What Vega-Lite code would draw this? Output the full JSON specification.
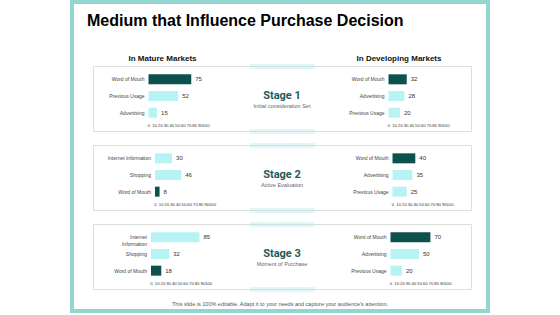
{
 "$schema": "https://vega.github.io/schema/vega-lite/v6.json",
 "padding": {"left": 70, "top": 0, "right": 0, "bottom": 0},
 "background": "white",
 "config": {"font": "Liberation Sans", "view": {"stroke": null}, "axis": {"labelOverlap": false, "tickCount": 12}},
 "datasets": {
  "bars": [
   {"stage":"Stage 1","market":"Mature","rank":1,"item":"Word of Mouth","label":"Word of Mouth","value":75},
   {"stage":"Stage 1","market":"Mature","rank":2,"item":"Previous Usage","label":"Previous Usage","value":52},
   {"stage":"Stage 1","market":"Mature","rank":3,"item":"Advertising","label":"Advertising","value":15},
   {"stage":"Stage 1","market":"Developing","rank":1,"item":"Word of Mouth","label":"Word of Mouth","value":32},
   {"stage":"Stage 1","market":"Developing","rank":2,"item":"Advertising","label":"Advertising","value":28},
   {"stage":"Stage 1","market":"Developing","rank":3,"item":"Previous Usage","label":"Previous Usage","value":20},
   {"stage":"Stage 2","market":"Mature","rank":1,"item":"Internet Information","label":"Internet Information","value":30},
   {"stage":"Stage 2","market":"Mature","rank":2,"item":"Shopping","label":"Shopping","value":46},
   {"stage":"Stage 2","market":"Mature","rank":3,"item":"Word of Mouth","label":"Word of Mouth","value":8},
   {"stage":"Stage 2","market":"Developing","rank":1,"item":"Word of Mouth","label":"Word of Mouth","value":40},
   {"stage":"Stage 2","market":"Developing","rank":2,"item":"Advertising","label":"Advertising","value":35},
   {"stage":"Stage 2","market":"Developing","rank":3,"item":"Previous Usage","label":"Previous Usage","value":25},
   {"stage":"Stage 3","market":"Mature","rank":1,"item":"Internet Information","label":"Internet\nInformation","value":85},
   {"stage":"Stage 3","market":"Mature","rank":2,"item":"Shopping","label":"Shopping","value":32},
   {"stage":"Stage 3","market":"Mature","rank":3,"item":"Word of Mouth","label":"Word of Mouth","value":18},
   {"stage":"Stage 3","market":"Developing","rank":1,"item":"Word of Mouth","label":"Word of Mouth","value":70},
   {"stage":"Stage 3","market":"Developing","rank":2,"item":"Advertising","label":"Advertising","value":50},
   {"stage":"Stage 3","market":"Developing","rank":3,"item":"Previous Usage","label":"Previous Usage","value":20}
  ]
 },
 "spacing": 0,
 "hconcat": [
  {"width": 4, "height": 313, "view": {"fill": "#93d5cf", "stroke": null}, "data": {"values": []}, "mark": "point"},
  {
   "spacing": 0,
   "vconcat": [
    {"width": 412, "height": 4, "view": {"fill": "#93d5cf", "stroke": null}, "data": {"values": []}, "mark": "point"},
    {
     "width": 412, "height": 59,
     "data": {"values": [{"h": "In Mature Markets"}, {"h": "In Developing Markets"}]},
     "layer": [
      {
       "transform": [{"filter": "datum.h == 'In Mature Markets'"}],
       "mark": {"type": "text", "text": "Medium that Influence Purchase Decision", "align": "left", "baseline": "alphabetic", "dx": -193, "dy": -7.5, "fontSize": 16, "fontWeight": "bold", "color": "#000000"},
       "encoding": {}
      },
      {
       "mark": {"type": "text", "fontSize": 8, "fontWeight": "bold", "dy": 25.5, "color": "#111111"},
       "encoding": {
        "x": {"field": "h", "type": "nominal", "sort": null, "axis": null, "scale": {"type": "point", "domain": ["In Mature Markets", "In Developing Markets"], "range": [88.5, 325], "padding": 0}},
        "text": {"field": "h"}
       }
      }
     ]
    },
    {
     "spacing": 0,
     "hconcat": [
      {"width": 18, "height": 65, "data": {"values": []}, "mark": "point"},
      {
       "width": 378, "height": 65,
       "view": {"stroke": "#dedede", "strokeWidth": 1},
       "resolve": {"scale": {"x": "independent"}, "axis": {"x": "independent"}},
       "layer": [
        {
         "data": {"name": "bars"},
         "transform": [{"filter": "datum.stage == 'Stage 1' && datum.market == 'Mature'"}],
         "encoding": {"y": {"field": "rank", "type": "ordinal", "axis": null, "scale": {"domain": [1, 2, 3], "range": [5, 55], "paddingInner": 0.4, "paddingOuter": 0.2}}},
         "layer": [
          {"mark": {"type": "bar"}, "encoding": {
            "x": {"field": "value", "type": "quantitative", "scale": {"domain": [0, 100], "range": [55.5, 112.5], "nice": false}, "axis": {"orient": "bottom", "values": [0,10,20,30,40,50,60,70,80,90,100], "tickCount": 12, "labelFontSize": 4.3, "labelOverlap": false, "labelFlush": false, "labelBound": false, "ticks": false, "domain": false, "grid": false, "title": null, "offset": -8, "labelPadding": 0, "labelColor": "#333333"}},
            "color": {"condition": {"test": "datum.item == 'Word of Mouth'", "value": "#0d514d"}, "value": "#b7f3f4"}}},
          {"mark": {"type": "text", "align": "left", "dx": 4, "fontSize": 6, "color": "#333333"}, "encoding": {"x": {"field": "value", "type": "quantitative"}, "text": {"field": "value"}}},
          {"mark": {"type": "text", "align": "right", "dx": -4, "fontSize": 5, "color": "#444444", "lineBreak": "\n"}, "encoding": {"x": {"datum": 0, "type": "quantitative"}, "text": {"field": "label"}}}
         ]
        },
        {
         "data": {"name": "bars"},
         "transform": [{"filter": "datum.stage == 'Stage 1' && datum.market == 'Developing'"}],
         "encoding": {"y": {"field": "rank", "type": "ordinal", "axis": null}},
         "layer": [
          {"mark": {"type": "bar"}, "encoding": {
            "x": {"field": "value", "type": "quantitative", "scale": {"domain": [0, 100], "range": [295.5, 352.5], "nice": false}, "axis": {"orient": "bottom", "values": [0,10,20,30,40,50,60,70,80,90,100], "tickCount": 12, "labelFontSize": 4.3, "labelOverlap": false, "labelFlush": false, "labelBound": false, "ticks": false, "domain": false, "grid": false, "title": null, "offset": -8, "labelPadding": 0, "labelColor": "#333333"}},
            "color": {"condition": {"test": "datum.item == 'Word of Mouth'", "value": "#0d514d"}, "value": "#b7f3f4"}}},
          {"mark": {"type": "text", "align": "left", "dx": 4, "fontSize": 6, "color": "#333333"}, "encoding": {"x": {"field": "value", "type": "quantitative"}, "text": {"field": "value"}}},
          {"mark": {"type": "text", "align": "right", "dx": -4, "fontSize": 5, "color": "#444444", "lineBreak": "\n"}, "encoding": {"x": {"datum": 0, "type": "quantitative"}, "text": {"field": "label"}}}
         ]
        },
        {
         "data": {"values": [{"s": "Stage 1", "sub": "Initial consideration Set"}]},
         "layer": [
          {"mark": {"type": "text", "fontSize": 11, "fontWeight": "bold", "color": "#1d5c59", "font": "Roboto"}, "encoding": {"y": {"datum": 2, "type": "ordinal"}, "text": {"field": "s"}}},
          {"mark": {"type": "text", "fontSize": 5.5, "color": "#666666", "dy": 10}, "encoding": {"y": {"datum": 2, "type": "ordinal"}, "text": {"field": "sub"}}},
          {"mark": {"type": "text", "text": "||||||||||||||||||||||||||||||||||||||||||||||||||", "fontSize": 5, "color": "#a9e8ea", "baseline": "middle"}, "encoding": {"y": {"value": 0}}},
          {"mark": {"type": "text", "text": "||||||||||||||||||||||||||||||||||||||||||||||||||", "fontSize": 5, "color": "#a9e8ea", "baseline": "middle"}, "encoding": {"y": {"value": "height"}}}
         ]
        }
       ]
      }
     ]
    },
    {"width": 412, "height": 7, "data": {"values": []}, "mark": "point"},
    {
     "spacing": 0,
     "hconcat": [
      {"width": 18, "height": 65, "data": {"values": []}, "mark": "point"},
      {
       "width": 378, "height": 65,
       "view": {"stroke": "#dedede", "strokeWidth": 1},
       "resolve": {"scale": {"x": "independent"}, "axis": {"x": "independent"}},
       "layer": [
        {
         "data": {"name": "bars"},
         "transform": [{"filter": "datum.stage == 'Stage 2' && datum.market == 'Mature'"}],
         "encoding": {"y": {"field": "rank", "type": "ordinal", "axis": null, "scale": {"domain": [1, 2, 3], "range": [5, 55], "paddingInner": 0.4, "paddingOuter": 0.2}}},
         "layer": [
          {"mark": {"type": "bar"}, "encoding": {
            "x": {"field": "value", "type": "quantitative", "scale": {"domain": [0, 100], "range": [62, 119], "nice": false}, "axis": {"orient": "bottom", "values": [0,10,20,30,40,50,60,70,80,90,100], "tickCount": 12, "labelFontSize": 4.3, "labelOverlap": false, "labelFlush": false, "labelBound": false, "ticks": false, "domain": false, "grid": false, "title": null, "offset": -8, "labelPadding": 0, "labelColor": "#333333"}},
            "color": {"condition": {"test": "datum.item == 'Word of Mouth'", "value": "#0d514d"}, "value": "#b7f3f4"}}},
          {"mark": {"type": "text", "align": "left", "dx": 4, "fontSize": 6, "color": "#333333"}, "encoding": {"x": {"field": "value", "type": "quantitative"}, "text": {"field": "value"}}},
          {"mark": {"type": "text", "align": "right", "dx": -4, "fontSize": 5, "color": "#444444", "lineBreak": "\n"}, "encoding": {"x": {"datum": 0, "type": "quantitative"}, "text": {"field": "label"}}}
         ]
        },
        {
         "data": {"name": "bars"},
         "transform": [{"filter": "datum.stage == 'Stage 2' && datum.market == 'Developing'"}],
         "encoding": {"y": {"field": "rank", "type": "ordinal", "axis": null}},
         "layer": [
          {"mark": {"type": "bar"}, "encoding": {
            "x": {"field": "value", "type": "quantitative", "scale": {"domain": [0, 100], "range": [299.5, 356.5], "nice": false}, "axis": {"orient": "bottom", "values": [0,10,20,30,40,50,60,70,80,90,100], "tickCount": 12, "labelFontSize": 4.3, "labelOverlap": false, "labelFlush": false, "labelBound": false, "ticks": false, "domain": false, "grid": false, "title": null, "offset": -8, "labelPadding": 0, "labelColor": "#333333"}},
            "color": {"condition": {"test": "datum.item == 'Word of Mouth'", "value": "#0d514d"}, "value": "#b7f3f4"}}},
          {"mark": {"type": "text", "align": "left", "dx": 4, "fontSize": 6, "color": "#333333"}, "encoding": {"x": {"field": "value", "type": "quantitative"}, "text": {"field": "value"}}},
          {"mark": {"type": "text", "align": "right", "dx": -4, "fontSize": 5, "color": "#444444", "lineBreak": "\n"}, "encoding": {"x": {"datum": 0, "type": "quantitative"}, "text": {"field": "label"}}}
         ]
        },
        {
         "data": {"values": [{"s": "Stage 2", "sub": "Active Evaluation"}]},
         "layer": [
          {"mark": {"type": "text", "fontSize": 11, "fontWeight": "bold", "color": "#1d5c59", "font": "Roboto"}, "encoding": {"y": {"datum": 2, "type": "ordinal"}, "text": {"field": "s"}}},
          {"mark": {"type": "text", "fontSize": 5.5, "color": "#666666", "dy": 10}, "encoding": {"y": {"datum": 2, "type": "ordinal"}, "text": {"field": "sub"}}},
          {"mark": {"type": "text", "text": "||||||||||||||||||||||||||||||||||||||||||||||||||", "fontSize": 5, "color": "#a9e8ea", "baseline": "middle"}, "encoding": {"y": {"value": 0}}},
          {"mark": {"type": "text", "text": "||||||||||||||||||||||||||||||||||||||||||||||||||", "fontSize": 5, "color": "#a9e8ea", "baseline": "middle"}, "encoding": {"y": {"value": "height"}}}
         ]
        }
       ]
      }
     ]
    },
    {"width": 412, "height": 7, "data": {"values": []}, "mark": "point"},
    {
     "spacing": 0,
     "hconcat": [
      {"width": 18, "height": 65, "data": {"values": []}, "mark": "point"},
      {
       "width": 378, "height": 65,
       "view": {"stroke": "#dedede", "strokeWidth": 1},
       "resolve": {"scale": {"x": "independent"}, "axis": {"x": "independent"}},
       "layer": [
        {
         "data": {"name": "bars"},
         "transform": [{"filter": "datum.stage == 'Stage 3' && datum.market == 'Mature'"}],
         "encoding": {"y": {"field": "rank", "type": "ordinal", "axis": null, "scale": {"domain": [1, 2, 3], "range": [5, 55], "paddingInner": 0.4, "paddingOuter": 0.2}}},
         "layer": [
          {"mark": {"type": "bar"}, "encoding": {
            "x": {"field": "value", "type": "quantitative", "scale": {"domain": [0, 100], "range": [58, 115], "nice": false}, "axis": {"orient": "bottom", "values": [0,10,20,30,40,50,60,70,80,90,100], "tickCount": 12, "labelFontSize": 4.3, "labelOverlap": false, "labelFlush": false, "labelBound": false, "ticks": false, "domain": false, "grid": false, "title": null, "offset": -8, "labelPadding": 0, "labelColor": "#333333"}},
            "color": {"condition": {"test": "datum.item == 'Word of Mouth'", "value": "#0d514d"}, "value": "#b7f3f4"}}},
          {"mark": {"type": "text", "align": "left", "dx": 4, "fontSize": 6, "color": "#333333"}, "encoding": {"x": {"field": "value", "type": "quantitative"}, "text": {"field": "value"}}},
          {"mark": {"type": "text", "align": "right", "dx": -4, "fontSize": 5, "color": "#444444", "lineBreak": "\n"}, "encoding": {"x": {"datum": 0, "type": "quantitative"}, "text": {"field": "label"}}}
         ]
        },
        {
         "data": {"name": "bars"},
         "transform": [{"filter": "datum.stage == 'Stage 3' && datum.market == 'Developing'"}],
         "encoding": {"y": {"field": "rank", "type": "ordinal", "axis": null}},
         "layer": [
          {"mark": {"type": "bar"}, "encoding": {
            "x": {"field": "value", "type": "quantitative", "scale": {"domain": [0, 100], "range": [297.5, 354.5], "nice": false}, "axis": {"orient": "bottom", "values": [0,10,20,30,40,50,60,70,80,90,100], "tickCount": 12, "labelFontSize": 4.3, "labelOverlap": false, "labelFlush": false, "labelBound": false, "ticks": false, "domain": false, "grid": false, "title": null, "offset": -8, "labelPadding": 0, "labelColor": "#333333"}},
            "color": {"condition": {"test": "datum.item == 'Word of Mouth'", "value": "#0d514d"}, "value": "#b7f3f4"}}},
          {"mark": {"type": "text", "align": "left", "dx": 4, "fontSize": 6, "color": "#333333"}, "encoding": {"x": {"field": "value", "type": "quantitative"}, "text": {"field": "value"}}},
          {"mark": {"type": "text", "align": "right", "dx": -4, "fontSize": 5, "color": "#444444", "lineBreak": "\n"}, "encoding": {"x": {"datum": 0, "type": "quantitative"}, "text": {"field": "label"}}}
         ]
        },
        {
         "data": {"values": [{"s": "Stage 3", "sub": "Moment of Purchase"}]},
         "layer": [
          {"mark": {"type": "text", "fontSize": 11, "fontWeight": "bold", "color": "#1d5c59", "font": "Roboto"}, "encoding": {"y": {"datum": 2, "type": "ordinal"}, "text": {"field": "s"}}},
          {"mark": {"type": "text", "fontSize": 5.5, "color": "#666666", "dy": 10}, "encoding": {"y": {"datum": 2, "type": "ordinal"}, "text": {"field": "sub"}}},
          {"mark": {"type": "text", "text": "||||||||||||||||||||||||||||||||||||||||||||||||||", "fontSize": 5, "color": "#a9e8ea", "baseline": "middle"}, "encoding": {"y": {"value": 0}}},
          {"mark": {"type": "text", "text": "||||||||||||||||||||||||||||||||||||||||||||||||||", "fontSize": 5, "color": "#a9e8ea", "baseline": "middle"}, "encoding": {"y": {"value": "height"}}}
         ]
        }
       ]
      }
     ]
    },
    {
     "width": 412, "height": 16,
     "data": {"values": [{"t": "This slide is 100% editable. Adapt it to your needs and capture your audience's attention."}]},
     "mark": {"type": "text", "fontSize": 5.5, "color": "#555555", "dy": 3},
     "encoding": {"text": {"field": "t"}}
    },
    {"width": 412, "height": 4, "view": {"fill": "#93d5cf", "stroke": null}, "data": {"values": []}, "mark": "point"}
   ]
  },
  {"width": 4, "height": 313, "view": {"fill": "#93d5cf", "stroke": null}, "data": {"values": []}, "mark": "point"}
 ]
}
